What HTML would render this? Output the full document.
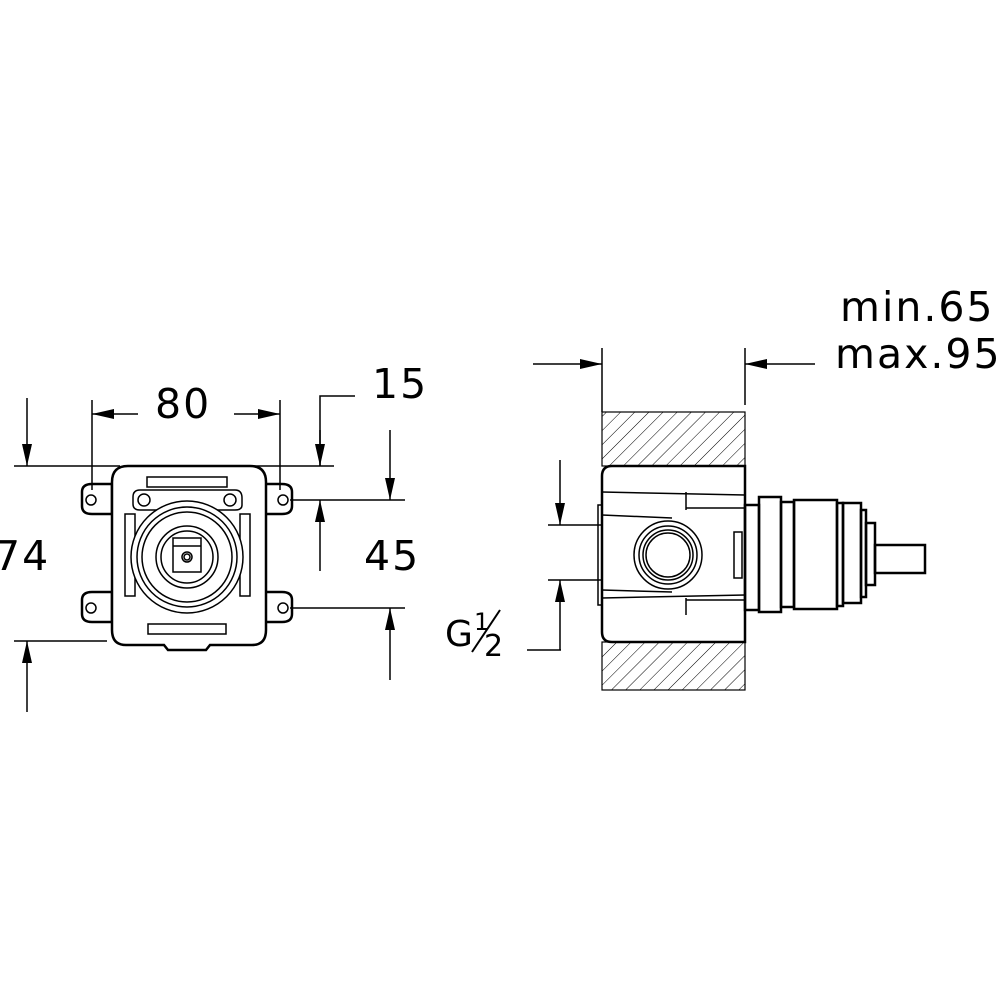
<!DOCTYPE html>
<html><head><style>body{margin:0;background:#fff}svg{display:block}text{font-family:"DejaVu Sans","Liberation Sans",sans-serif;fill:#000}</style></head>
<body>
<svg width="1000" height="1000" viewBox="0 0 1000 1000" xmlns="http://www.w3.org/2000/svg">
<defs>
<marker id="a" viewBox="0 0 22 10" refX="22" refY="5" markerWidth="22" markerHeight="10" markerUnits="userSpaceOnUse" orient="auto"><path d="M0,0L22,5L0,10Z" fill="#000"/></marker>
<pattern id="h" width="10" height="10" patternUnits="userSpaceOnUse" patternTransform="rotate(45)"><line x1="0" y1="0" x2="0" y2="10" stroke="#000" stroke-width="1"/></pattern>
</defs>
<g stroke="#000" fill="none" stroke-width="1.5">
<line x1="14" y1="466" x2="120" y2="466"/><line x1="253" y1="466" x2="334" y2="466"/>
<line x1="27" y1="398" x2="27" y2="466" marker-end="url(#a)"/>
<line x1="14" y1="641" x2="107" y2="641"/>
<line x1="27" y1="712" x2="27" y2="641" marker-end="url(#a)"/>
<line x1="92" y1="400" x2="92" y2="490"/><line x1="280" y1="400" x2="280" y2="490"/>
<line x1="138" y1="414" x2="92" y2="414" marker-end="url(#a)"/>
<line x1="234" y1="414" x2="280" y2="414" marker-end="url(#a)"/>
<polyline points="355,396 320,396 320,466" /><line x1="320" y1="430" x2="320" y2="466" marker-end="url(#a)"/>
<line x1="290" y1="500" x2="405" y2="500"/><line x1="290" y1="608" x2="405" y2="608"/>
<line x1="390" y1="430" x2="390" y2="500" marker-end="url(#a)"/>
<line x1="320" y1="571" x2="320" y2="500" marker-end="url(#a)"/>
<line x1="390" y1="680" x2="390" y2="608" marker-end="url(#a)"/>
<g stroke-width="2.5">
<path d="M82,492 q0,-8 10,-8 h20 v30 h-20 q-10,0 -10,-8z"/>
<path d="M82,600 q0,-8 10,-8 h20 v30 h-20 q-10,0 -10,-8z"/>
<path d="M292,492 q0,-8 -10,-8 h-20 v30 h20 q10,0 10,-8z"/>
<path d="M292,600 q0,-8 -10,-8 h-20 v30 h20 q10,0 10,-8z"/>
<path d="M128,466 H250 Q266,466 266,482 V630 Q266,645 252,645 H210 L206,650 H168 L164,645 H126 Q112,645 112,630 V482 Q112,466 128,466Z" fill="#fff"/>
</g>
<circle cx="91" cy="500" r="5"/><circle cx="91" cy="608" r="5"/><circle cx="283" cy="500" r="5"/><circle cx="283" cy="608" r="5"/>
<rect x="147" y="477" width="80" height="10"/>
<path d="M140,490 H235 Q242,490 242,498 V505 Q242,510 235,510 H140 Q133,510 133,504 V497 Q133,490 140,490Z"/>
<circle cx="144" cy="500" r="6"/><circle cx="230" cy="500" r="6"/>
<rect x="125" y="514" width="10" height="82"/><rect x="240" y="514" width="10" height="82"/>
<circle cx="187" cy="557" r="56" fill="#fff"/><circle cx="187" cy="557" r="50"/><circle cx="187" cy="557" r="45"/>
<circle cx="187" cy="557" r="31"/><circle cx="187" cy="557" r="26"/>
<rect x="173" y="538" width="28" height="34"/><line x1="173" y1="546" x2="201" y2="546"/>
<circle cx="187" cy="557" r="5"/><circle cx="187" cy="557" r="3"/>
<rect x="148" y="624" width="78" height="10"/>
<line x1="602" y1="348" x2="602" y2="412"/><line x1="745" y1="348" x2="745" y2="405"/>
<line x1="533" y1="364" x2="602" y2="364" marker-end="url(#a)"/>
<line x1="815" y1="364" x2="745" y2="364" marker-end="url(#a)"/>
<rect x="602" y="412" width="143" height="54" fill="url(#h)" stroke-width="1.2"/>
<rect x="602" y="642" width="143" height="48" fill="url(#h)" stroke-width="1.2"/>
<line x1="560" y1="460" x2="560" y2="525" marker-end="url(#a)"/>
<line x1="548" y1="525" x2="640" y2="525"/><line x1="548" y1="580" x2="640" y2="580"/>
<line x1="560" y1="650" x2="560" y2="580" marker-end="url(#a)"/>
<line x1="527" y1="650" x2="561" y2="650"/>
<g stroke-width="2.5">
<path d="M612,466 H745 V642 H612 Q602,642 602,632 V476 Q602,466 612,466Z" fill="#fff"/>
<rect x="745" y="505" width="14" height="105"/>
<rect x="759" y="497" width="22" height="115"/>
<rect x="781" y="502" width="13" height="105"/>
<rect x="794" y="500" width="43" height="109"/>
<rect x="837" y="503" width="6" height="103"/>
<rect x="843" y="503" width="18" height="100"/>
<rect x="861" y="510" width="5" height="87"/>
<rect x="866" y="523" width="9" height="62"/>
<rect x="875" y="545" width="50" height="28"/>
</g>
<line x1="602" y1="492" x2="745" y2="495"/><line x1="602" y1="598" x2="745" y2="595"/>
<line x1="686" y1="492" x2="686" y2="510"/><line x1="686" y1="598" x2="686" y2="615"/>
<line x1="686" y1="508" x2="745" y2="508"/><line x1="686" y1="600" x2="745" y2="600"/>
<line x1="602" y1="515" x2="672" y2="518"/><line x1="602" y1="590" x2="672" y2="592"/>
<rect x="734" y="532" width="8" height="46"/>
<rect x="598" y="505" width="4" height="100"/>
<circle cx="668" cy="555" r="34" fill="#fff"/><circle cx="668" cy="555" r="29"/><circle cx="668" cy="555" r="25"/><circle cx="668" cy="555" r="22"/>
</g>
<g font-size="41" letter-spacing="2">
<text x="155" y="418">80</text>
<text x="372" y="398">15</text>
<text x="-6" y="570">74</text>
<text x="364" y="570">45</text>
<text x="840" y="321">min.65</text>
<text x="835" y="368">max.95</text>
</g>
<text x="445" y="646" font-size="36">G</text>
<text x="474" y="630" font-size="24">1</text>
<text x="484" y="656" font-size="30">2</text>
<line x1="472" y1="652" x2="500" y2="610" stroke="#000" stroke-width="2"/>
</svg>
</body></html>
